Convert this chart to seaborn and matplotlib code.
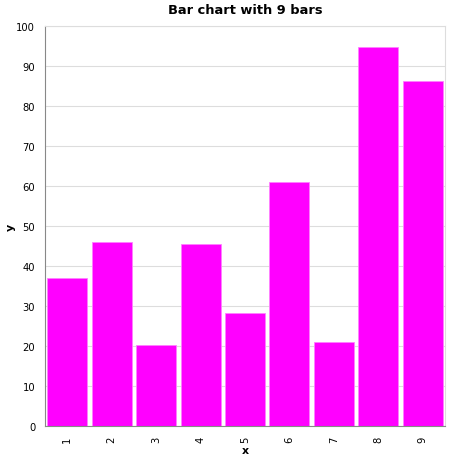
import seaborn as sns
import matplotlib.pyplot as plt
import pandas as pd

# data
x_labels = ["1", "2", "3", "4", "5", "6", "7", "8", "9"]
y_values = [37.1, 45.9, 20.25, 45.5, 28.2, 61, 21.1, 94.8, 86.2]

df = pd.DataFrame({"x": x_labels, "y": y_values})

sns.set_style("white")
plt.rcParams["font.family"] = ["DejaVu Sans"]
plt.rcParams["text.color"] = "black"
plt.rcParams["axes.labelcolor"] = "black"

fig = plt.figure(figsize=(4.5, 4.6), dpi=100)
ax = fig.add_axes([45 / 450, 33 / 460, 400 / 450, 400 / 460])

sns.barplot(data=df, x="x", y="y", color="#ff00ff", saturation=1,
            width=0.9, edgecolor="#ff80ff", linewidth=0.6, ax=ax, zorder=2)

ax.set_xlim(-0.5, 8.5)
ax.set_ylim(0, 100)
ax.set_yticks(range(0, 101, 10))

ax.grid(axis="y", color="#dddddd", linewidth=0.8, zorder=0)
ax.set_axisbelow(True)

for side in ["left", "bottom"]:
    ax.spines[side].set_color("#888888")
    ax.spines[side].set_linewidth(0.8)
for side in ["top", "right"]:
    ax.spines[side].set_color("#dddddd")
    ax.spines[side].set_linewidth(0.8)

ax.tick_params(axis="both", colors="#888888", length=3.6, width=0.8,
               labelsize=7.2, labelcolor="black")
ax.tick_params(axis="x", labelrotation=90)

ax.set_xlabel("x", fontsize=7.9, fontweight="bold")
ax.set_ylabel("y", fontsize=7.9, fontweight="bold")
ax.xaxis.set_label_coords(0.5, -0.047)
ax.yaxis.set_label_coords(-0.074, 0.5)
ax.set_title("Bar chart with 9 bars", fontsize=9.4, fontweight="bold",
             color="black", pad=9)

fig.savefig("out.png", dpi=100)
